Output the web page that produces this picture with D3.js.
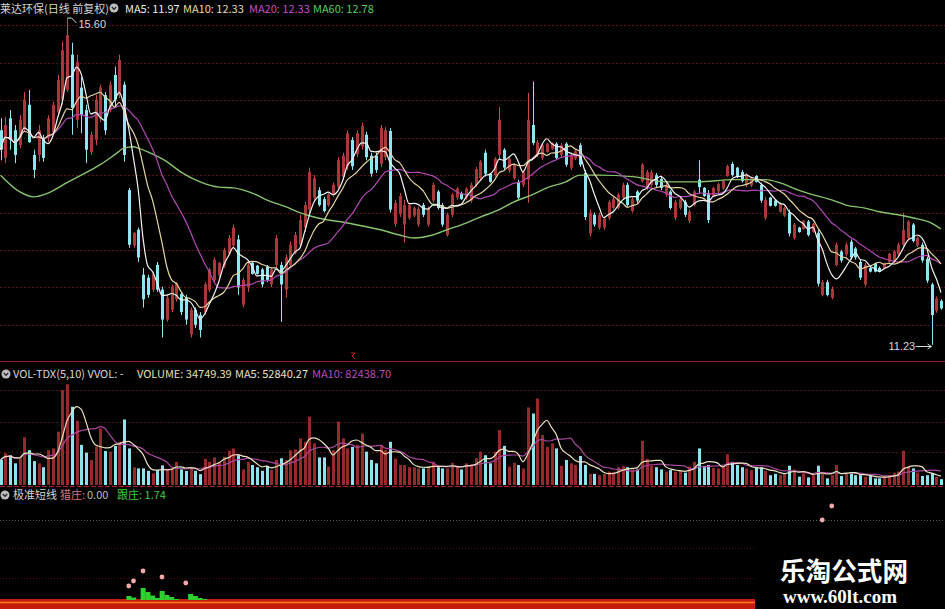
<!DOCTYPE html>
<html><head><meta charset="utf-8">
<script src="https://cdn.jsdelivr.net/npm/d3@7"></script>
<style>html,body{margin:0;padding:0;background:#000;}svg{display:block;}</style>
</head><body><svg id="c" width="945" height="609"></svg>
<script>
// ---- data ----
const openP=[
14.10,13.73,14.26,14.10,13.90,14.13,14.44,13.77,13.77,14.00,
14.00,14.08,14.34,14.51,14.64,15.11,14.24,14.67,14.37,13.81,
13.97,14.26,14.57,14.37,14.84,14.57,14.71,13.30,12.56,12.77,
12.17,12.13,11.97,12.30,11.97,11.57,11.70,11.84,11.91,11.86,
11.37,11.70,11.63,11.67,11.97,12.10,12.16,12.29,12.45,12.56,
12.64,11.77,12.00,12.33,12.29,12.24,12.28,12.04,12.30,12.30,
11.97,12.30,12.46,12.57,12.80,13.04,13.20,13.30,13.18,13.10,
13.24,13.34,13.48,13.62,13.97,13.78,13.88,14.04,13.76,13.76,
13.65,13.74,14.09,12.85,12.98,12.84,12.93,12.96,12.84,13.10,
12.84,13.16,13.28,13.10,12.70,12.97,13.20,13.26,13.20,13.16,
13.37,13.46,13.80,13.52,13.50,13.77,13.84,13.56,13.46,13.41,
13.37,13.44,14.17,13.77,13.73,13.81,13.85,13.92,13.77,13.92,
13.60,13.72,13.90,13.53,12.72,12.97,12.80,12.80,12.93,13.06,
13.06,13.20,13.37,13.02,13.28,13.42,13.33,13.37,13.50,13.45,
13.24,13.28,12.93,13.06,13.14,12.89,13.10,13.44,13.33,13.26,
13.22,13.28,13.32,13.49,13.65,13.60,13.54,13.37,13.36,13.49,
13.37,12.93,13.20,13.16,13.01,12.96,13.00,12.66,12.80,12.78,
12.88,12.74,12.73,11.90,12.07,11.86,12.30,12.48,12.44,12.61,
12.52,12.34,12.04,12.26,12.32,12.26,12.25,12.34,12.36,12.44,
12.57,12.66,12.84,12.56,12.57,12.38,12.04,11.69,11.82];
const highP=[
14.26,14.28,14.37,14.17,14.30,14.61,14.64,13.84,14.17,14.04,
14.30,14.48,14.84,15.28,15.60,15.27,15.11,14.81,14.44,14.08,
14.57,14.71,14.61,14.75,14.95,15.11,14.75,13.33,12.74,12.80,
12.26,12.17,12.21,12.34,12.01,11.90,12.04,12.07,11.94,11.90,
11.73,11.73,11.67,12.07,12.26,12.40,12.34,12.53,12.70,12.84,
12.70,12.13,12.34,12.34,12.30,12.26,12.30,12.26,12.70,12.34,
12.44,12.61,12.74,12.97,13.14,13.60,13.50,13.34,13.21,13.26,
13.40,13.74,13.80,14.10,14.01,14.10,14.20,14.08,13.80,13.80,
14.17,14.14,14.13,13.17,13.26,13.17,13.13,13.08,13.08,13.13,
13.08,13.40,13.30,13.13,13.00,13.26,13.34,13.28,13.34,13.40,
13.61,13.70,13.84,13.53,13.74,14.41,13.86,13.74,13.66,13.44,
13.57,14.60,14.75,13.97,13.93,13.93,13.94,13.94,13.93,13.94,
13.80,13.84,13.93,13.57,13.04,13.00,13.00,12.94,13.17,13.21,
13.26,13.40,13.40,13.21,13.30,13.66,13.57,13.57,13.53,13.48,
13.40,13.30,13.17,13.21,13.17,13.04,13.30,13.70,13.34,13.30,
13.34,13.40,13.44,13.64,13.68,13.61,13.57,13.53,13.48,13.50,
13.40,13.21,13.21,13.17,13.13,13.08,13.04,12.86,12.81,12.90,
12.90,12.86,12.77,12.10,12.10,12.01,12.60,12.50,12.60,12.64,
12.54,12.37,12.33,12.28,12.33,12.28,12.33,12.46,12.50,12.60,
13.00,12.90,12.86,12.68,12.60,12.41,12.06,11.88,11.84];
const lowP=[
13.70,13.66,13.84,13.66,13.86,14.08,13.93,13.46,13.68,13.68,
13.94,14.04,14.30,14.44,14.61,14.04,14.13,14.06,13.66,13.77,
13.90,14.21,14.04,14.34,14.41,14.53,13.68,12.53,12.53,12.34,
11.73,11.86,11.94,11.94,11.33,11.54,11.67,11.81,11.63,11.50,
11.33,11.46,11.33,11.63,11.94,12.07,12.13,12.26,12.44,12.53,
11.90,11.73,11.94,12.17,12.17,12.00,12.07,12.00,12.26,11.54,
11.86,12.26,12.44,12.53,12.74,12.97,13.14,13.08,13.00,13.08,
13.21,13.30,13.44,13.57,13.57,13.74,13.84,13.70,13.48,13.53,
13.61,13.70,13.00,12.81,12.94,12.60,12.90,12.94,12.81,12.94,
12.81,13.13,13.04,12.81,12.68,12.94,13.17,13.17,13.17,13.13,
13.34,13.44,13.48,13.40,13.48,13.70,13.57,13.53,13.44,13.17,
13.34,13.13,13.90,13.74,13.70,13.80,13.84,13.70,13.74,13.61,
13.57,13.70,13.61,12.90,12.68,12.81,12.77,12.77,12.90,13.04,
13.04,13.17,13.08,13.00,13.13,13.40,13.30,13.34,13.34,13.30,
13.21,13.04,12.90,13.04,12.94,12.86,13.08,13.26,13.21,12.86,
13.21,13.26,13.30,13.48,13.48,13.46,13.40,13.34,13.34,13.40,
13.13,12.90,13.08,13.08,13.00,12.94,12.68,12.64,12.73,12.77,
12.68,12.73,12.01,11.88,11.88,11.84,12.28,12.33,12.41,12.37,
12.37,12.10,12.01,12.20,12.20,12.20,12.24,12.33,12.33,12.41,
12.54,12.64,12.60,12.54,12.33,12.06,11.23,11.66,11.70];
const closeP=[
13.84,14.17,13.97,13.77,14.24,14.51,13.94,13.57,14.10,13.73,
14.26,14.44,14.77,15.17,15.37,14.40,15.01,14.30,13.84,14.04,
14.51,14.67,14.10,14.71,14.51,15.04,13.77,12.57,12.73,12.40,
11.84,11.90,12.18,11.97,11.57,11.86,12.01,12.06,11.67,11.57,
11.70,11.50,11.43,12.04,12.24,12.37,12.33,12.50,12.66,12.80,
12.00,12.10,12.30,12.18,12.18,12.04,12.10,12.24,12.66,12.04,
12.40,12.57,12.70,12.90,13.10,13.54,13.46,13.10,13.02,13.24,
13.37,13.70,13.76,14.06,13.62,14.06,14.16,13.74,13.52,13.57,
14.13,14.10,13.04,13.13,13.22,13.10,13.10,13.06,13.05,12.97,
13.05,13.37,13.06,12.84,12.97,13.24,13.32,13.18,13.32,13.37,
13.58,13.68,13.52,13.41,13.72,14.24,13.60,13.72,13.64,13.20,
13.54,14.24,13.93,13.94,13.90,13.92,13.93,13.73,13.90,13.64,
13.77,13.82,13.64,12.94,13.00,12.84,12.97,12.92,13.14,13.18,
13.24,13.37,13.10,13.18,13.16,13.64,13.54,13.54,13.37,13.33,
13.37,13.06,13.14,13.18,12.97,13.01,13.28,13.34,13.22,12.90,
13.33,13.38,13.42,13.62,13.50,13.48,13.42,13.50,13.46,13.41,
13.16,13.17,13.09,13.09,13.12,13.06,12.72,12.84,12.74,12.89,
12.70,12.85,12.05,12.07,11.90,11.98,12.57,12.36,12.57,12.40,
12.40,12.13,12.30,12.21,12.21,12.21,12.32,12.45,12.48,12.57,
12.77,12.88,12.62,12.66,12.36,12.09,11.63,11.85,11.72];
const volume=[
148000,188000,176000,128000,158000,282000,206000,141000,128000,105000,
206000,216000,315000,561000,595000,462000,379000,237000,191000,148000,
225000,334000,201000,197000,231000,255000,387000,216000,105000,98000,
98000,84000,69000,88000,116000,92000,98000,137000,92000,83000,
101000,84000,64000,154000,137000,163000,137000,167000,203000,216000,
176000,92000,137000,118000,105000,84000,113000,88000,148000,158000,
148000,206000,210000,276000,255000,404000,246000,163000,163000,109000,
206000,374000,276000,216000,225000,237000,304000,197000,148000,128000,
237000,206000,255000,156000,118000,118000,105000,105000,98000,98000,
113000,137000,105000,98000,98000,131000,113000,92000,128000,118000,
158000,197000,176000,128000,197000,325000,231000,109000,131000,118000,
98000,458000,422000,511000,295000,225000,246000,216000,113000,148000,
128000,118000,171000,118000,66000,66000,58000,66000,79000,73000,
105000,113000,105000,92000,92000,261000,154000,113000,105000,92000,
79000,88000,79000,84000,73000,109000,137000,216000,113000,118000,
101000,98000,105000,182000,137000,118000,105000,98000,88000,105000,
105000,84000,58000,66000,58000,69000,114000,92000,49000,69000,
45000,58000,114000,69000,39000,58000,118000,53000,73000,66000,
58000,58000,49000,53000,39000,39000,53000,58000,73000,79000,
203000,109000,98000,73000,53000,58000,69000,49000,34749.39];
// MA60 (candle index, value)
const ma60Idx=[0,4,7,10,14,17,21,24,26,28,29,31,35,38,42,46,49,53,56,60,63,66,73,80,84,87,91,94,98,101,105,108,112,115,119,122,126,133,140,147,154,161,164,168,171,175,178,182,185,189,192,196,198];
const ma60Val=[13.50,13.28,13.21,13.26,13.40,13.50,13.64,13.77,13.86,13.88,13.86,13.81,13.68,13.54,13.41,13.34,13.33,13.26,13.17,13.08,13.00,12.94,12.86,12.77,12.70,12.66,12.70,12.77,12.86,12.94,13.04,13.14,13.24,13.33,13.41,13.50,13.50,13.48,13.41,13.41,13.44,13.44,13.40,13.30,13.24,13.17,13.10,13.06,13.01,12.97,12.93,12.86,12.78];
// lower indicator: 跟庄 bars and 猎庄 dots
const followIdx=[27,28,30,31,32,33,34,35,36,37,40,41,42,43];
const followVal=[0.4,0.25,1.2,0.8,0.45,0.2,0.9,0.5,0.3,0.1,0.6,0.4,0.2,0.1];
const markIdx=[27,28,30,34,39,173,175];
const markVal=[1.4,1.9,2.9,2.3,1.7,8.0,9.4];
const priceGrid=[15.5,15.0,14.5,14.0,13.5,13.0,12.5,12.0,11.5];
const volGrid=[195000,372000,561000];
const highLabel="15.60", lowLabel="11.23";

// ---- drawing ----
const W=945,H=609,N=closeP.length;
const svg=d3.select('#c');
svg.append('rect').attr('width',W).attr('height',H).attr('fill','#000');
const x=d3.scaleLinear().domain([0,N-1]).range([0.5,941]);
const y=d3.scaleLinear().domain([11.23,15.60]).range([345,18]);
const yv=d3.scaleLinear().domain([0,620000]).range([485,380]);
const yf=d3.scaleLinear().domain([0,10]).range([600,500]);
const font='"Noto Sans CJK SC","Noto Sans",sans-serif';
const UP='#aa3838', UPE='#c84a4a', DN='#8fe6f2';

function ma(arr,n){return arr.map((_,i)=>d3.mean(arr.slice(Math.max(0,i-n+1),i+1)));}

// grids
svg.append('g').selectAll('line').data(priceGrid).join('line')
  .attr('x1',0).attr('x2',W).attr('y1',d=>Math.round(y(d))+0.5).attr('y2',d=>Math.round(y(d))+0.5)
  .attr('stroke','#561414').attr('stroke-dasharray','2,2');
svg.append('g').selectAll('line').data(volGrid).join('line')
  .attr('x1',0).attr('x2',W).attr('y1',d=>Math.round(yv(d))+0.5).attr('y2',d=>Math.round(yv(d))+0.5)
  .attr('stroke','#4e1212').attr('stroke-dasharray','2,2');
svg.append('line').attr('x1',0).attr('x2',W).attr('y1',520.5).attr('y2',520.5).attr('stroke','#5a5a5a').attr('stroke-dasharray','1,2');
[548.5,578.5].forEach(v=>svg.append('line').attr('x1',0).attr('x2',W).attr('y1',v).attr('y2',v).attr('stroke','#4a1010').attr('stroke-dasharray','1,2'));
// separators
svg.append('line').attr('x1',0).attr('x2',W).attr('y1',361.5).attr('y2',361.5).attr('stroke','#9a1c1c');
svg.append('line').attr('x1',0).attr('x2',W).attr('y1',486.5).attr('y2',486.5).attr('stroke','#b02020').attr('stroke-dasharray','5,2');

// candles
const idx=d3.range(N);
const cg=svg.append('g');
cg.selectAll('line').data(idx).join('line')
  .attr('x1',i=>Math.round(x(i))+0.5).attr('x2',i=>Math.round(x(i))+0.5)
  .attr('y1',i=>y(highP[i])).attr('y2',i=>y(lowP[i]))
  .attr('stroke',i=>closeP[i]>=openP[i]?UPE:DN).attr('stroke-width',1);
cg.selectAll('rect').data(idx).join('rect')
  .attr('x',i=>Math.round(x(i))-1).attr('width',3)
  .attr('y',i=>y(Math.max(openP[i],closeP[i])))
  .attr('height',i=>Math.max(1,Math.abs(y(openP[i])-y(closeP[i]))))
  .attr('fill',i=>closeP[i]>=openP[i]?UP:DN);

// MA lines
const lineP=d3.line().x((d,i)=>x(i)).y(d=>y(d)).curve(d3.curveMonotoneX);
const maDefs=[[ma(closeP,20),'#b04ab4'],[ma(closeP,10),'#e6d6a0'],[ma(closeP,5),'#f2f2f2']];
svg.append('path').datum(ma60Idx.map((k,j)=>[k,ma60Val[j]]))
  .attr('d',d3.line().x(d=>x(d[0])).y(d=>y(d[1])).curve(d3.curveMonotoneX))
  .attr('fill','none').attr('stroke','#86c46e').attr('stroke-width',1.4);
maDefs.forEach(([d,c])=>svg.append('path').datum(d).attr('d',lineP).attr('fill','none').attr('stroke',c).attr('stroke-width',1.2));

// high / low labels
const hi=d3.maxIndex(highP), lo=d3.minIndex(lowP);
const hx=Math.round(x(hi))+0.5, hy=y(highP[hi]);
svg.append('path').attr('d',`M${hx},${hy} L${hx+4},${hy} L${hx+9},${hy+5}`).attr('fill','none').attr('stroke','#d8d8d8');
svg.append('text').attr('x',hx+11).attr('y',hy+10).text(highLabel).attr('fill','#d8d8d8').attr('font-size',11).attr('font-family','"Liberation Sans",Arial,sans-serif');
const lx=Math.round(x(lo))+0.5, ly=y(lowP[lo]);
svg.append('text').attr('x',lx-44).attr('y',ly+5).text(lowLabel).attr('fill','#d8d8d8').attr('font-size',11).attr('font-family','"Liberation Sans",Arial,sans-serif');
svg.append('path').attr('d',`M${lx-17},${ly+1.5} L${lx-1},${ly+1.5} M${lx-5},${ly-1} L${lx-1},${ly+1.5} L${lx-5},${ly+4}`).attr('fill','none').attr('stroke','#d8d8d8');
// small red mark
svg.append('path').attr('d','M351,353 L355,353 L352,356 L355,359').attr('fill','none').attr('stroke','#c02828');

// volume
const vg=svg.append('g');
vg.selectAll('rect').data(idx).join('rect')
  .attr('x',i=>Math.round(x(i))-1).attr('width',3)
  .attr('y',i=>yv(volume[i])).attr('height',i=>yv(0)-yv(volume[i]))
  .attr('fill',i=>closeP[i]>=openP[i]?'#962a2a':'#8fe3ef');
const lineV=d3.line().x((d,i)=>x(i)).y(d=>yv(d)).curve(d3.curveMonotoneX);
svg.append('path').datum(ma(volume,10)).attr('d',lineV).attr('fill','none').attr('stroke','#a8489e').attr('stroke-width',1.2);
svg.append('path').datum(ma(volume,5)).attr('d',lineV).attr('fill','none').attr('stroke','#ece2c0').attr('stroke-width',1.2);

// lower indicator
svg.append('rect').attr('x',0).attr('y',599).attr('width',W).attr('height',10).attr('fill','#c41e0c');
svg.append('line').attr('x1',0).attr('x2',W).attr('y1',602.5).attr('y2',602.5).attr('stroke','#ff7f1e').attr('stroke-width',1.5);
const step=x(1)-x(0);
svg.append('g').selectAll('rect').data(followIdx).join('rect')
  .attr('x',(k)=>x(k)-step/2).attr('width',step+0.3)
  .attr('y',(k,j)=>yf(followVal[j])).attr('height',(k,j)=>yf(0)-yf(followVal[j]))
  .attr('fill','#2fd02f');
svg.append('g').selectAll('circle').data(markIdx).join('circle')
  .attr('cx',k=>x(k)).attr('cy',(k,j)=>yf(markVal[j])).attr('r',2.4).attr('fill','#f3a9a9');

// watermark
svg.append('rect').attr('x',755).attr('y',540).attr('width',190).attr('height',69).attr('fill','#000');
svg.append('text').attr('x',780).attr('y',581).text('乐淘公式网').attr('fill','#fff').attr('font-weight','bold')
  .attr('font-size',26).attr('font-family',font).attr('textLength',128).attr('lengthAdjust','spacingAndGlyphs');
svg.append('text').attr('x',783).attr('y',603).text('www.60lt.com').attr('fill','#fff').attr('font-weight','bold')
  .attr('font-size',18).attr('font-family','"Liberation Serif","DejaVu Serif",serif').attr('textLength',114).attr('lengthAdjust','spacingAndGlyphs');

// headers
function icon(cx,cy){
  svg.append('circle').attr('cx',cx).attr('cy',cy).attr('r',4.5).attr('fill','#bdbdbd');
  svg.append('path').attr('d',`M${cx-2.2},${cy-1} L${cx},${cy+1.4} L${cx+2.2},${cy-1}`).attr('fill','none').attr('stroke','#222').attr('stroke-width',1.3);
}
function txt(xp,yp,s,c){return svg.append('text').attr('x',xp).attr('y',yp).text(s).attr('fill',c).attr('font-size',11).attr('font-family',font);}
txt(0,13,'莱达环保(日线 前复权)','#d6d6d6');
icon(114,8);
txt(125,13,'MA5: 11.97','#ececec');
txt(183,13,'MA10: 12.33','#e6dcaa');
txt(249,13,'MA20: 12.33','#c250c8');
txt(313,13,'MA60: 12.78','#5ccc5c');
icon(6,374);
txt(13,378,'VOL-TDX(5,10) VVOL: -','#d6d6d6');
txt(137,378,'VOLUME: 34749.39','#e6e0aa');
txt(235,378,'MA5: 52840.27','#e6e0c8');
txt(312,378,'MA10: 82438.70','#b84cb8');
icon(5,495);
txt(13,499,'极准短线','#d6d6d6');
txt(60,499,'猎庄:','#d87878');
txt(87,499,'0.00','#bdbdbd');
txt(117,499,'跟庄: 1.74','#40cc40');
</script></body></html>
